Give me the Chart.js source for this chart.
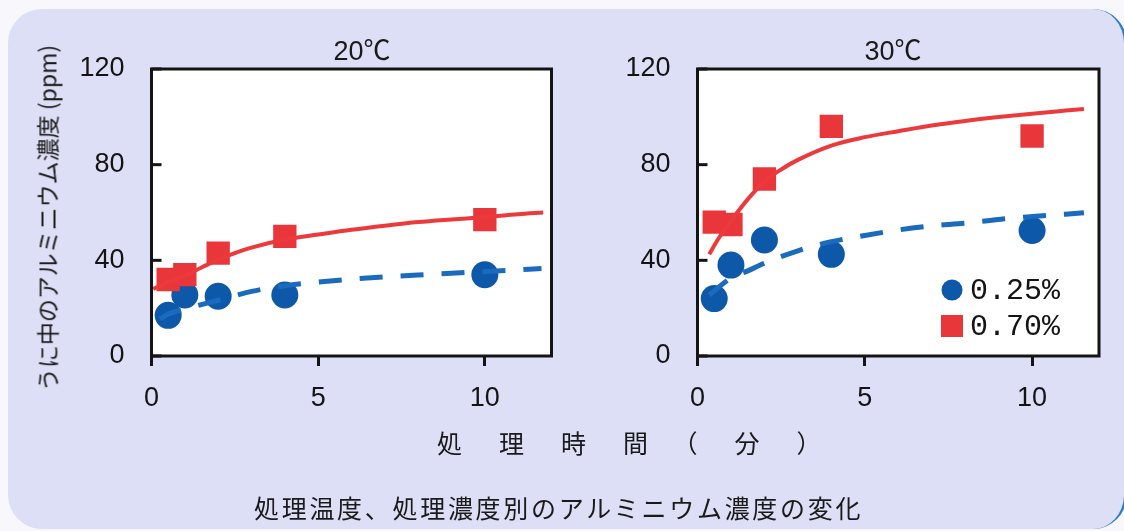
<!DOCTYPE html>
<html lang="ja">
<head>
<meta charset="utf-8">
<script src="https://cdn.jsdelivr.net/npm/chart.js@4.4.1/dist/chart.umd.min.js"></script>
<style>
  html, body { margin: 0; padding: 0; width: 1124px; height: 531px; overflow: hidden; background: #f7f7fc; }
  #panel { position: absolute; left: 8px; top: 9px; width: 1116px; height: 520px;
           border-radius: 34px; background: #dcdff5; border-right: 3px solid #2f7cc6; }
  canvas { position: absolute; left: 0; top: 0; }
  .txt { position: absolute; white-space: nowrap; color: #1a1a1a; line-height: 1;
         font-family: "Noto Sans CJK JP", sans-serif; }
  #ytitle { left: 47px; top: 218px; font-size: 23px; transform: translate(-50%, -50%) rotate(-90deg); }
  #xtitle { left: 437px; top: 442px; font-size: 25px; letter-spacing: 6px; transform: translateY(-50%); }
  #caption { left: 254px; top: 507px; font-size: 25px; letter-spacing: 2.7px; transform: translateY(-50%); }
  .ptitle { top: 51px; font-size: 27px; transform: translate(-50%, -50%);
            font-family: "Liberation Sans", "Noto Sans CJK JP", sans-serif; }
</style>
</head>
<body>
<div id="panel"></div>
<canvas id="c20" width="1124" height="531"></canvas>
<canvas id="c30" width="1124" height="531"></canvas>
<div class="txt ptitle" style="left:362px">20℃</div>
<div class="txt ptitle" style="left:893px">30℃</div>
<div class="txt" id="ytitle">うに中のアルミニウム濃度 (ppm)</div>
<div class="txt" id="xtitle">処　理　時　間　（　分　）</div>
<div class="txt" id="caption">処理温度、処理濃度別のアルミニウム濃度の変化</div>
<script>
// Treatment time (min) of the measurements
const timeMin = [0.5, 1, 2, 4, 10];

// Aluminium in sea urchin (ppm), by temperature and concentration
const al20_025 = [17, 25.5, 25, 25.5, 34];
const al20_070 = [32, 34, 43, 50, 57];
const al30_025 = [24, 38, 48.5, 42.5, 52.5];
const al30_070 = [56, 55, 74, 96, 92];

// Fitted trend curves, sampled along each curve
const fitX20_070 = [0.05, 0.5, 1, 1.5, 2, 2.5, 3, 4, 5, 6, 7, 8, 9, 10, 11, 11.75];
const fitY20_070 = [28, 31, 33.5, 37, 40.3, 43, 45.3, 48.7, 50.8, 52.8, 54.5, 56, 57.1, 58.1, 59.3, 60];
const fitX20_025 = [0.25, 0.5, 1, 1.5, 2, 3, 4, 5, 6, 7, 8, 9, 10, 11, 11.7];
const fitY20_025 = [15.5, 17.5, 19.7, 21.5, 23.3, 27, 29.4, 30.9, 32.1, 33.1, 33.9, 34.6, 35.3, 36, 36.6];
const fitX30_070 = [0.35, 0.6, 1, 1.5, 2, 2.5, 3, 4, 5, 6, 7, 8, 9, 10, 11, 11.55];
const fitY30_070 = [42.5, 48.5, 56.5, 65.5, 73, 78, 82, 88, 91.5, 94, 96.4, 98.3, 99.9, 101.3, 102.6, 103.3];
const fitX30_025 = [0.35, 1, 1.5, 2, 3, 4, 5, 6, 7, 8, 9, 10, 11, 11.55];
const fitY30_025 = [25.5, 32.6, 35.6, 38.8, 44, 47.8, 50.4, 52.7, 54.4, 55.5, 57.1, 58.3, 59.3, 59.9];

// Axis ticks and legend
const yTicks = [0, 40, 80, 120];
const xTicks = [0, 5, 10];
const seriesLabels = ['0.25%', '0.70%'];

const RED = '#e8363b';
const RED_LINE = '#ec3a3c';
const BLUE = '#0d58a8';
const BLUE_LINE = '#1a6abd';
const INK = '#141414';
const TICK_FONT = { family: '"Liberation Sans", sans-serif', size: 27 };

const toXY = (xs, ys) => xs.map((x, i) => ({ x, y: ys[i] }));

// White plot area, black frame and short inward ticks on the value axis
const framePlugin = {
  id: 'plotFrame',
  beforeDraw(chart) {
    const { ctx, chartArea: a } = chart;
    ctx.save();
    ctx.fillStyle = '#ffffff';
    ctx.fillRect(a.left, a.top, a.right - a.left, a.bottom - a.top);
    ctx.restore();
  },
  afterDraw(chart) {
    const { ctx, chartArea: a, scales } = chart;
    ctx.save();
    ctx.strokeStyle = INK;
    ctx.lineWidth = 3;
    ctx.strokeRect(a.left, a.top, a.right - a.left, a.bottom - a.top);
    yTicks.forEach(v => {
      const py = scales.y.getPixelForValue(v);
      ctx.beginPath();
      ctx.moveTo(a.left, py);
      ctx.lineTo(a.left + 10, py);
      ctx.stroke();
    });
    ctx.restore();
  }
};

// Legend placed inside the 30℃ plot
const insideLegend = {
  id: 'insideLegend',
  afterDraw(chart, args, opts) {
    if (!opts.show) return;
    const { ctx } = chart;
    const items = [
      { label: seriesLabels[0], color: BLUE, shape: 'circle', y: 290 },
      { label: seriesLabels[1], color: RED, shape: 'rect', y: 326 }
    ];
    ctx.save();
    ctx.font = '30px "Liberation Mono", monospace';
    ctx.textBaseline = 'middle';
    ctx.textAlign = 'left';
    items.forEach(it => {
      ctx.fillStyle = it.color;
      if (it.shape === 'circle') {
        ctx.beginPath();
        ctx.arc(952, it.y, 10.5, 0, Math.PI * 2);
        ctx.fill();
      } else {
        ctx.fillRect(941, it.y - 11, 22, 22);
      }
      ctx.fillStyle = INK;
      ctx.fillText(it.label, 970, it.y + 1);
    });
    ctx.restore();
  }
};

function makePanel(id, lowPts, highPts, lowFit, highFit, area, showLegend) {
  return new Chart(document.getElementById(id), {
    type: 'scatter',
    data: {
      datasets: [
        { label: seriesLabels[1] + ' fit', data: highFit, showLine: true, pointRadius: 0,
          borderColor: RED_LINE, borderWidth: 4, cubicInterpolationMode: 'monotone', order: 0 },
        { label: seriesLabels[0] + ' fit', data: lowFit, showLine: true, pointRadius: 0,
          borderColor: BLUE_LINE, borderWidth: 5, borderDash: [23, 18],
          cubicInterpolationMode: 'monotone', order: 0 },
        { label: seriesLabels[1], data: highPts, pointStyle: 'rect', pointRadius: 16.5,
          backgroundColor: RED, borderColor: RED, borderWidth: 0, order: 1 },
        { label: seriesLabels[0], data: lowPts, pointStyle: 'circle', pointRadius: 13.5,
          backgroundColor: BLUE, borderColor: BLUE, borderWidth: 0, order: 1 }
      ]
    },
    options: {
      responsive: false,
      animation: false,
      events: [],
      layout: { padding: { left: area.padLeft, top: 69, right: area.padRight, bottom: 0 } },
      plugins: {
        legend: { display: false },
        tooltip: { enabled: false },
        insideLegend: { show: showLegend }
      },
      scales: {
        x: {
          type: 'linear', min: 0, max: 12,
          afterFit: s => { s.height = 175; },
          afterBuildTicks: s => { s.ticks = xTicks.map(v => ({ value: v })); },
          border: { display: false },
          grid: { drawOnChartArea: false, drawTicks: true, tickLength: 10, lineWidth: 3, color: INK },
          ticks: { padding: 16, color: INK, font: TICK_FONT }
        },
        y: {
          type: 'linear', min: 0, max: 120,
          afterFit: s => { s.width = area.axisWidth; },
          afterBuildTicks: s => { s.ticks = yTicks.map(v => ({ value: v })); },
          border: { display: false },
          grid: { display: false, drawTicks: false },
          ticks: { padding: 27, color: INK, font: TICK_FONT }
        }
      }
    },
    plugins: [framePlugin, insideLegend]
  });
}

makePanel('c20',
  toXY(timeMin, al20_025), toXY(timeMin, al20_070),
  toXY(fitX20_025, fitY20_025), toXY(fitX20_070, fitY20_070),
  { padLeft: 0, axisWidth: 151.5, padRight: 1124 - 551.5 }, false);

makePanel('c30',
  toXY(timeMin, al30_025), toXY(timeMin, al30_070),
  toXY(fitX30_025, fitY30_025), toXY(fitX30_070, fitY30_070),
  { padLeft: 560, axisWidth: 137.5, padRight: 1124 - 1099 }, true);
</script>
</body>
</html>
